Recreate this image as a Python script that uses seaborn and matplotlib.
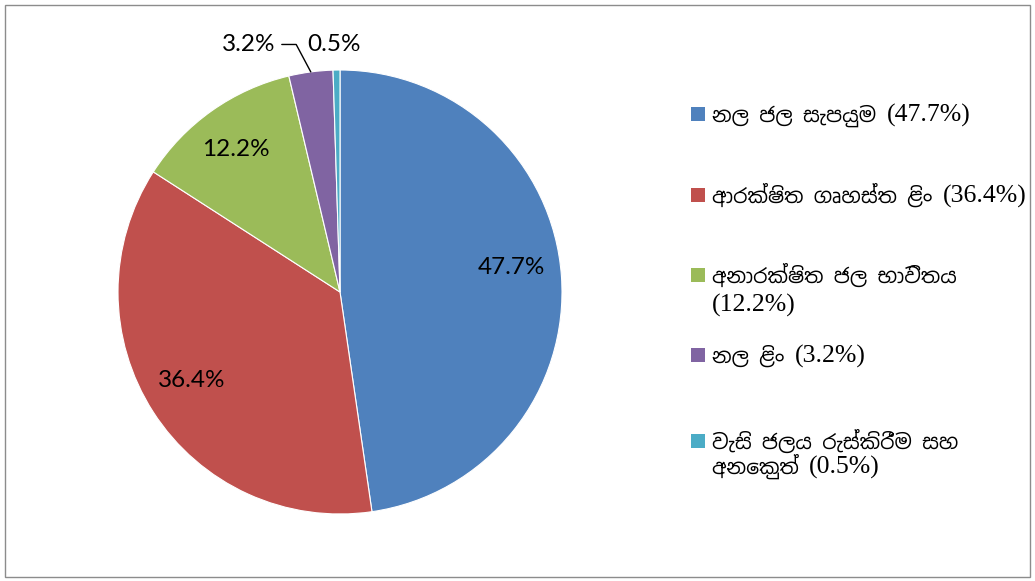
import re
import matplotlib
matplotlib.use("Agg")
import matplotlib.pyplot as plt
import matplotlib.font_manager as fm
from matplotlib.patches import Rectangle
import numpy as np
import seaborn as sns

# ---- data ----
categories = ["නල ජල සැපයුම", "ආරක්ෂිත ගෘහස්ත ළිං", "අනාරක්ෂිත ජල භාවිතය",
              "නල ළිං", "වැසි ජලය රැස්කිරීම සහ අනෙකුත්"]
legend_labels = ["නල ජල සැපයුම (47.7%)", "ආරක්ෂිත ගෘහස්ත ළිං (36.4%)",
                 "අනාරක්ෂිත ජල භාවිතය\n(12.2%)", "නල ළිං (3.2%)",
                 "වැසි ජලය රැස්කිරීම සහ\nඅනෙකුත් (0.5%)"]
values = [47.7, 36.4, 12.2, 3.2, 0.5]
value_labels = ["47.7%", "36.4%", "12.2%", "3.2%", "0.5%"]
colors = ["#4F81BD", "#C0504D", "#9BBB59", "#8064A2", "#4BACC6"]

sns.set_theme(style="white")

# find a font with Sinhala coverage
sinhala_family = None
try:
    from matplotlib.ft2font import FT2Font
    paths = fm.findSystemFonts()
    for p in sorted(paths, key=lambda s: ("inhala" not in s, s)):
        try:
            f = FT2Font(p)
            if 0x0DB1 in f.get_charmap():
                sinhala_family = fm.FontProperties(fname=p).get_name()
                fm.fontManager.addfont(p)
                break
        except Exception:
            continue
except Exception:
    pass

sin_family = ([sinhala_family] if sinhala_family else []) + ["Liberation Serif", "DejaVu Sans"]
lat_family = ["Liberation Serif", "DejaVu Sans"]
plt.rcParams["font.family"] = ["Lato", "DejaVu Sans"]

W, H = 1035, 581
fig = plt.figure(figsize=(W / 100, H / 100), dpi=100)
fig.patch.set_facecolor("white")
fig.add_artist(Rectangle((5 / W, 4 / H), 1025 / W, 572 / H,
                         transform=fig.transFigure, fill=False,
                         edgecolor="#8c8c8c", linewidth=1.0))

ax = fig.add_axes([118 / W, 67 / H, 444 / W, 444 / H])
wedges, _ = ax.pie(values, colors=colors, startangle=90, counterclock=False,
                   radius=1.0,
                   wedgeprops=dict(edgecolor="white", linewidth=0.8))
ax.set_xlim(-1, 1)
ax.set_ylim(-1, 1)
ax.set_aspect("equal")

fs_lab = 17.5
label_pos = [(0.77, 0.11), (-0.67, -0.40), (-0.47, 0.64), (-0.41, 1.115), (-0.025, 1.115)]
for i, w in enumerate(wedges):
    mid = np.deg2rad((w.theta1 + w.theta2) / 2)
    if i == 3:
        ax.annotate(value_labels[i], xy=(np.cos(mid), np.sin(mid)),
                    xytext=label_pos[i], ha="center", va="center",
                    fontsize=fs_lab, color="black", annotation_clip=False,
                    arrowprops=dict(arrowstyle="-", color="black", lw=1,
                                    shrinkA=2, shrinkB=0,
                                    connectionstyle="angle,angleA=0,angleB=118,rad=0"))
    else:
        ax.text(label_pos[i][0], label_pos[i][1], value_labels[i],
                ha="center", va="center", fontsize=fs_lab, color="black")

# legend (manual, Excel-like layout)
renderer = fig.canvas.get_renderer()
baselines = [[122], [203], [283, 312], [363], [449, 474]]
x_marker, x_text, msz = 691, 712, 14
for lab, col, bls in zip(legend_labels, colors, baselines):
    fig.add_artist(Rectangle((x_marker / W, 1 - (bls[0] - 1) / H), msz / W, msz / H,
                             transform=fig.transFigure, facecolor=col,
                             edgecolor="none"))
    for line, bl in zip(lab.split("\n"), bls):
        x = x_text
        for seg in re.split(r"(\([^)]*\))", line):
            if not seg:
                continue
            latin = seg.startswith("(")
            t = fig.text(x / W, 1 - bl / H, seg, ha="left", va="baseline",
                         fontsize=18.5 if latin else 14.7,
                         family=lat_family if latin else sin_family,
                         color="black")
            x = t.get_window_extent(renderer).x1

fig.savefig("out.png", dpi=100, facecolor="white")
